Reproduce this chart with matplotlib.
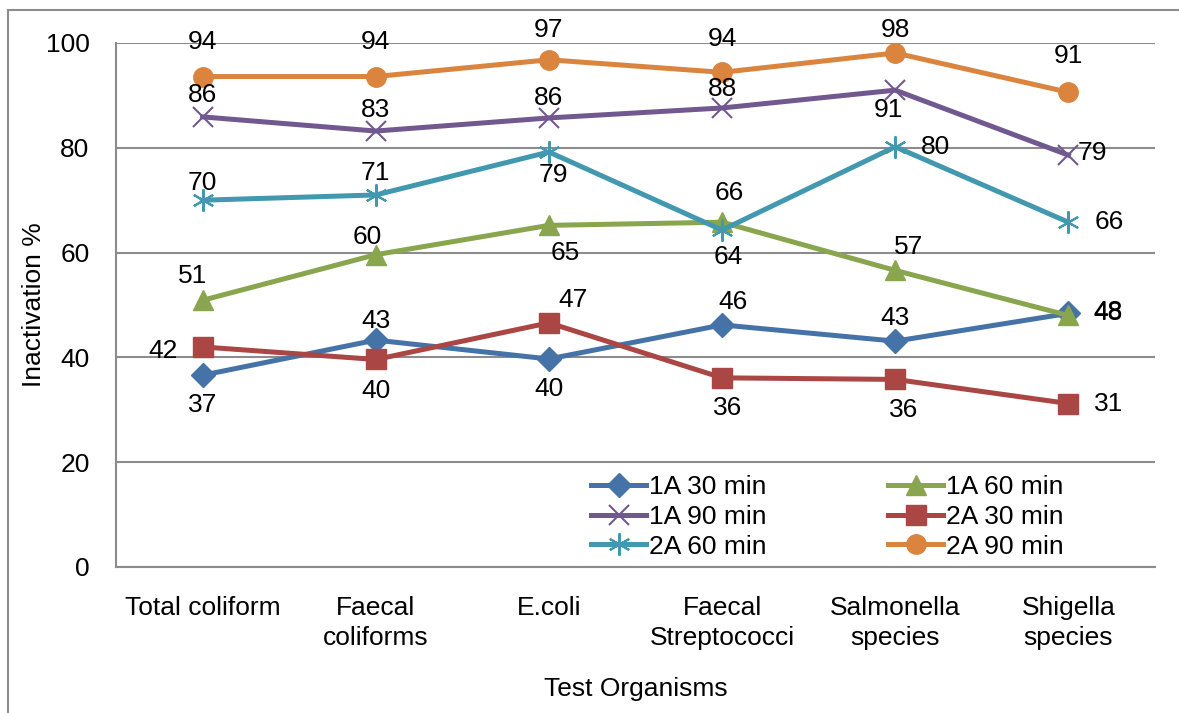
import matplotlib
matplotlib.use("Agg")
import matplotlib.pyplot as plt
from matplotlib.patches import Rectangle

plt.rcParams['font.family'] = ['Liberation Sans', 'DejaVu Sans']

organisms = ["Total coliform", "Faecal\ncoliforms", "E.coli", "Faecal\nStreptococci",
             "Salmonella\nspecies", "Shigella\nspecies"]

a1_30 = [36.6, 43.3, 39.7, 46.2, 43.1, 48.4]
a1_60 = [50.9, 59.6, 65.2, 65.8, 56.6, 48.0]
a1_90 = [85.9, 83.2, 85.7, 87.6, 91.0, 78.6]
a2_30 = [42.0, 39.6, 46.6, 36.1, 35.8, 31.2]
a2_60 = [70.0, 71.0, 79.2, 64.3, 80.2, 65.8]
a2_90 = [93.6, 93.6, 96.8, 94.4, 98.1, 90.6]

series_names = ["1A 30 min", "1A 60 min", "1A 90 min", "2A 30 min", "2A 60 min", "2A 90 min"]
series_values = [a1_30, a1_60, a1_90, a2_30, a2_60, a2_90]

colors = ["#4572A7", "#89A54E", "#71588F", "#AA4643", "#4198AF", "#DB843D"]
markers = ["D", "^", "x", "s", (6, 2, 0), "o"]
msizes = [12, 14, 14, 14, 16, 14]

FS = 19

# label offsets in pixels (dx, dy, horizontal alignment)
C, L, R = "center", "left", "right"
label_pos = [
    [(0, -30, C), (0, 19, C), (0, -30, C), (11, 23, C), (0, 23, C), (25, 1, L)],
    [(-10, 24, C), (-8, 18, C), (16, -28, C), (7, 29, C), (13, 23, C), (25, 2, L)],
    [(0, 22, C), (0, 21, C), (0, 20, C), (0, 19, C), (-7, -20, C), (9, 2, L)],
    [(-25, -4, R), (0, -32, C), (24, 23, C), (6, -30, C), (8, -31, C), (26, 0, L)],
    [(0, 17, C), (0, 22, C), (4, -23, C), (6, -27, C), (26, 0, L), (26, 0, L)],
    [(0, 35, C), (0, 35, C), (0, 30, C), (0, 33, C), (0, 23, C), (0, 36, C)],
]

fig = plt.figure(figsize=(11.79, 7.13), dpi=100)
ax = fig.add_axes([116 / 1179, 1 - 567 / 713, 1039 / 1179, 524 / 713])

x = list(range(len(organisms)))
handles = []
for name, vals, col, mk, ms, pos in zip(series_names, series_values, colors, markers, msizes, label_pos):
    thin = mk in ("x", (6, 2, 0))
    h, = ax.plot(x, vals, color=col, lw=3.6, marker=mk, markersize=ms,
                 markeredgewidth=1.5 if thin else 1, markeredgecolor=col,
                 solid_joinstyle="round", label=name)
    handles.append(h)
    for xi, v, (dx, dy, ha) in zip(x, vals, pos):
        ax.annotate(f"{v:.0f}", (xi, v), xytext=(dx, dy), textcoords="offset pixels",
                    ha=ha, va="center", fontsize=FS, color="black")

ax.set_xlim(-0.5, 5.5)
ax.set_ylim(0, 100)
ax.set_yticks(range(0, 101, 20))
ax.set_xticks(x)
ax.set_xticklabels(organisms, fontsize=FS, linespacing=1.3)
ax.tick_params(axis="y", labelsize=FS, length=0, pad=19)
ax.tick_params(axis="x", length=0, pad=21)
ax.yaxis.grid(True, color="#8c8c8c", lw=1.5)
ax.set_axisbelow(True)
for s in ["top", "right"]:
    ax.spines[s].set_visible(False)
for s in ["left", "bottom"]:
    ax.spines[s].set_color("#8c8c8c")
    ax.spines[s].set_linewidth(1.5)

ax.set_ylabel("Inactivation %", fontsize=FS)
ax.yaxis.set_label_coords(-70 / 1039, 0.5)
ax.set_xlabel("Test Organisms", fontsize=FS)
ax.xaxis.set_label_coords(0.5, -110 / 524)

order = [0, 2, 4, 1, 3, 5]
fig.legend([handles[i] for i in order], [series_names[i] for i in order],
           loc="upper left", bbox_to_anchor=(591 / 1179, 1 - 475 / 713),
           ncol=2, frameon=False, fontsize=FS, handlelength=2.1,
           handletextpad=0.1, columnspacing=4.6, labelspacing=0.22,
           borderpad=0, borderaxespad=0)

fig.patches.append(Rectangle((8 / 1179, -0.1), 2, 1.1 - 10 / 713,
                             transform=fig.transFigure, fill=False,
                             edgecolor="#8c8c8c", lw=1.5))

fig.savefig("out.png", dpi=100)
